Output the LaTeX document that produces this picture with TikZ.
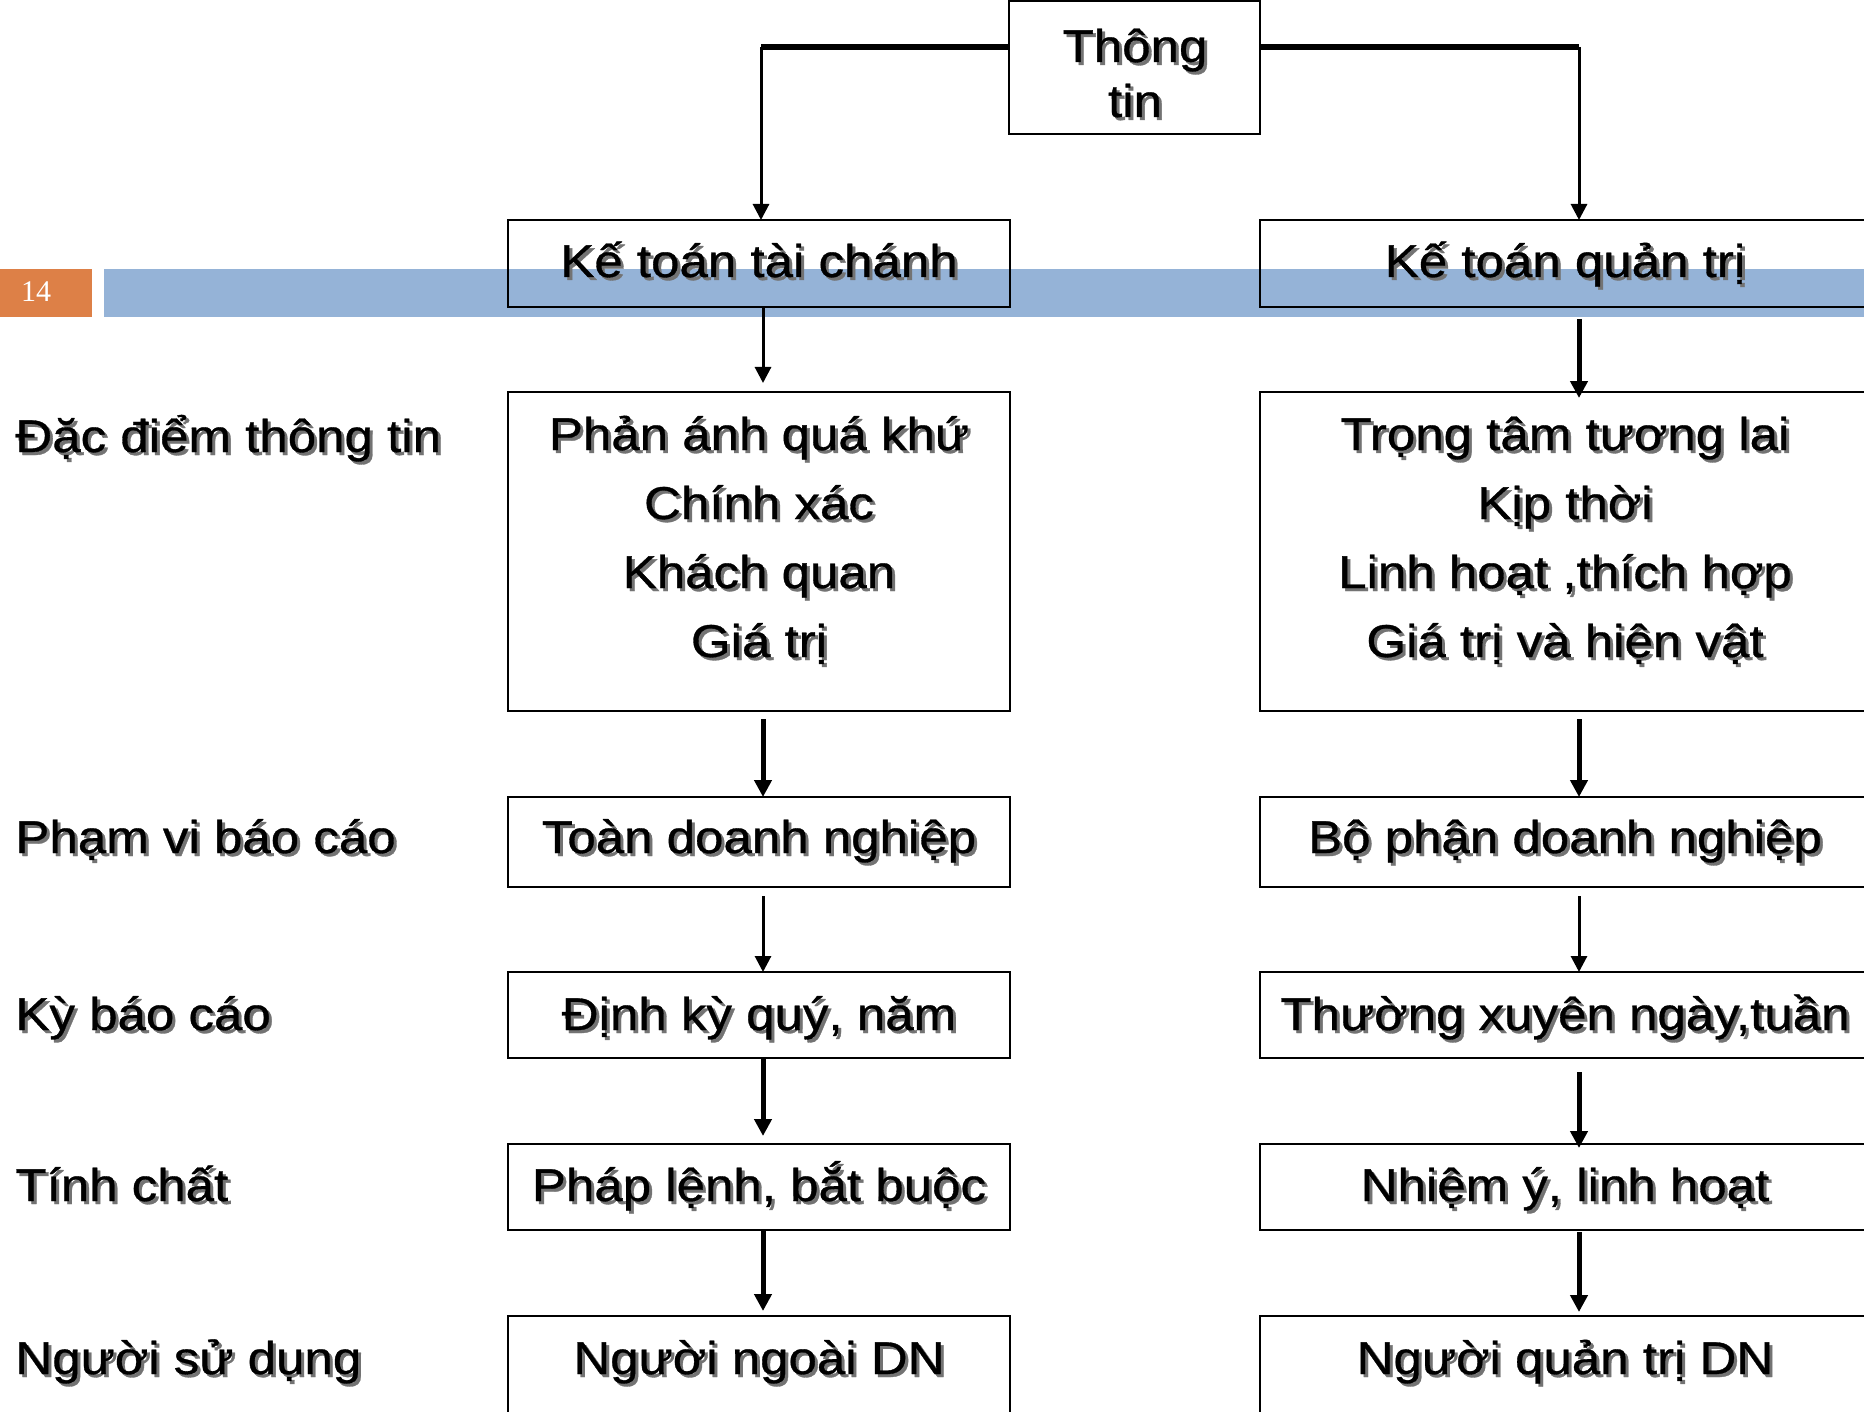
\documentclass[tikz,border=0pt]{standalone}
\usepackage{fontspec}
\setmainfont{Liberation Sans}[FakeStretch=1.11,FakeBold=0.7]
\newfontfamily\numfont{Liberation Serif}
\usetikzlibrary{arrows.meta}
\definecolor{barblue}{HTML}{95B3D7}
\definecolor{numorange}{HTML}{DD8047}
\newcommand\shd[1]{\makebox[0pt][l]{\kern1.5pt\raisebox{-1.5pt}{\textcolor{black!55}{#1}}}#1}
\begin{document}
\begin{tikzpicture}[x=0.5pt,y=-0.5pt,
  box/.style={draw=black,line width=1.3pt,inner sep=0pt,outer sep=0pt},
  lbox/.style={box,minimum width=251pt},
  rbox/.style={box,minimum width=305pt},
  txt/.style={anchor=base,inner sep=0pt,font=\fontsize{23pt}{34.5pt}\selectfont},
  ltxt/.style={txt,anchor=base west},
  thk/.style={line width=2.5pt,-{Triangle[width=8.5pt,length=8.5pt]}},
  thn/.style={line width=1.5pt,-{Triangle[width=8pt,length=8pt]}},
  hline/.style={line width=3.2pt}
]
\useasboundingbox (0,0) rectangle (1864,1412);
\clip (0,0) rectangle (1864,1412);
% slide decorations
\fill[numorange] (0,269) rectangle (92,317);
\fill[barblue] (104,269) rectangle (1864,317);
\node[text=white,font=\numfont\fontsize{15pt}{18pt}\selectfont] (num) at (36,292) {14};
% guide coordinates
\coordinate (LX) at (763,0);
\coordinate (RX) at (1579,0);
% boxes
\node[box,minimum width=125.5pt,minimum height=66.5pt] (tt) at (1134.5,67.5) {};
\node[lbox,minimum height=43.5pt] (kttc) at (759,263.5) {};
\node[rbox,minimum height=43.5pt] (ktqt) at (1565,263.5) {};
\node[lbox,minimum height=159.5pt] (pa) at (759,551.5) {};
\node[rbox,minimum height=159.5pt] (tl) at (1565,551.5) {};
\node[lbox,minimum height=45pt] (toan) at (759,842) {};
\node[rbox,minimum height=45pt] (bp) at (1565,842) {};
\node[lbox,minimum height=43pt] (dk) at (759,1015) {};
\node[rbox,minimum height=43pt] (tx) at (1565,1015) {};
\node[lbox,minimum height=43pt] (pl) at (759,1187) {};
\node[rbox,minimum height=43pt] (ny) at (1565,1187) {};
\node[lbox,minimum height=62pt] (nn) at (759,1378) {};
\node[rbox,minimum height=62pt] (nq) at (1565,1378) {};
% texts in boxes
\node[txt] (tt1) at (1135,62) {\shd{Thông}};
\node[txt] (tt2) at (1135,117) {\shd{tin}};
\node[txt] (kttct) at (759,277) {\shd{Kế toán tài chánh}};
\node[txt] (ktqtt) at (1565,277) {\shd{Kế toán quản trị}};
\node[txt] (pa1) at (759,450) {\shd{Phản ánh quá khứ}};
\node[txt] (pa2) at (759,519) {\shd{Chính xác}};
\node[txt] (pa3) at (759,588) {\shd{Khách quan}};
\node[txt] (pa4) at (759,657) {\shd{Giá trị}};
\node[txt] (tl1) at (1565,450) {\shd{Trọng tâm tương lai}};
\node[txt] (tl2) at (1565,519) {\shd{Kịp thời}};
\node[txt] (tl3) at (1565,588) {\shd{Linh hoạt ,thích hợp}};
\node[txt] (tl4) at (1565,657) {\shd{Giá trị và hiện vật}};
\node[txt] (toant) at (759,853) {\shd{Toàn doanh nghiệp}};
\node[txt] (bpt) at (1565,853) {\shd{Bộ phận doanh nghiệp}};
\node[txt] (dkt) at (759,1030) {\shd{Định kỳ quý, năm}};
\node[txt] (txt) at (1565,1030) {\shd{Thường xuyên ngày,tuần}};
\node[txt] (plt) at (759,1201) {\shd{Pháp lệnh, bắt buộc}};
\node[txt] (nyt) at (1565,1201) {\shd{Nhiệm ý, linh hoạt}};
\node[txt] (nnt) at (759,1374) {\shd{Người ngoài DN}};
\node[txt] (nqt) at (1565,1374) {\shd{Người quản trị DN}};
% left labels
\node[ltxt] (l1) at (15,452) {\shd{Đặc điểm thông tin}};
\node[ltxt] (l2) at (15,853) {\shd{Phạm vi báo cáo}};
\node[ltxt] (l3) at (15,1030) {\shd{Kỳ báo cáo}};
\node[ltxt] (l4) at (15,1201) {\shd{Tính chất}};
\node[ltxt] (l5) at (15,1374) {\shd{Người sử dụng}};
% top connectors
\draw[hline] (tt.west |- 0,47) -- (761,47) coordinate (tl0);
\draw[thn] (tl0) -- (kttc.north -| tl0);
\draw[hline] (tt.east |- 0,47) -- (RX |- 0,47) coordinate (tr0);
\draw[thn] (tr0) -- (ktqt.north -| tr0);
% left column arrows
\draw[thn,shorten >=4.5pt] (kttc.south -| LX) -- (pa.north -| LX);
\draw[thk,shorten <=4pt] (pa.south -| LX) -- (toan.north -| LX);
\draw[thn,shorten <=4.5pt] (toan.south -| LX) -- (dk.north -| LX);
\draw[thk,shorten >=4pt] (dk.south -| LX) -- (pl.north -| LX);
\draw[thk,shorten >=2.5pt] (pl.south -| LX) -- (nn.north -| LX);
% right column arrows
\draw[thk,shorten <=6pt,shorten >=-3pt] (ktqt.south -| RX) -- (tl.north -| RX);
\draw[thk,shorten <=4pt] (tl.south -| RX) -- (bp.north -| RX);
\draw[thn,shorten <=4.5pt] (bp.south -| RX) -- (tx.north -| RX);
\draw[thk,shorten <=7pt,shorten >=-2pt] (tx.south -| RX) -- (ny.north -| RX);
\draw[thk,shorten <=1pt,shorten >=2pt] (ny.south -| RX) -- (nq.north -| RX);
\end{tikzpicture}
\end{document}
